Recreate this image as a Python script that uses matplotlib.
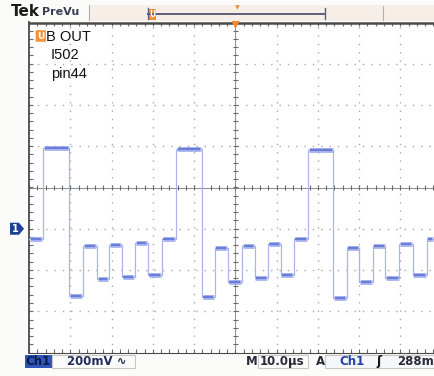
import matplotlib.pyplot as plt
import matplotlib.patches as patches
import numpy as np

# Trace: edge times (us from left of graticule) and
# levels (mV relative to the channel 1 ground marker)
edge_times = [3.4, 9.8, 13.1, 16.5, 19.4, 22.5, 25.7, 28.8, 32.2,
              35.6, 41.9, 45.0, 48.2, 51.6, 54.7, 57.9, 61.0, 64.2,
              67.6, 73.8, 77.0, 80.1, 83.3, 86.4, 89.8, 93.0, 96.4]
levels_mv = [-48, 390, -328, -86, -246, -78, -236, -68, -222, -48,
             386, -330, -94, -258, -84, -240, -74, -224, -50,
             382, -336, -94, -258, -84, -240, -74, -224, -50]

label_lines = ["B OUT", "I502", "pin44"]
volts_per_div = "200mV"
time_per_div = "10.0\u00b5s"
trigger_level = "288m"

W, H = 434, 376
us_per_div = 10.0
mv_per_div = 200.0
ground_div = -1.0
px_per_div = 41.25
gx0, gy0, gy1 = 29, 22.5, 352.5


def fx(px):
    return px / W


def fy(py):
    return 1 - py / H


fig = plt.figure(figsize=(W / 100, H / 100), dpi=100)
fig.patch.set_facecolor("#fbfbfa")

# graticule axes, cut off on the right just like the screenshot
ax = fig.add_axes([fx(gx0), fy(gy1), fx(W - gx0), (gy1 - gy0) / H])
ax.set_facecolor("white")
ndiv_x = (W - gx0) / px_per_div
ax.set_xlim(0, ndiv_x * us_per_div)
ax.set_ylim((-4 - ground_div) * mv_per_div, (4 - ground_div) * mv_per_div)
ax.set_xticks([])
ax.set_yticks([])
ax.spines["right"].set_visible(False)
for side in ["left", "top", "bottom"]:
    ax.spines[side].set_color("#4a4a4a")
ax.spines["top"].set_linewidth(1.8)
ax.spines["left"].set_linewidth(1.3)
ax.spines["bottom"].set_linewidth(0.8)

xc = 5 * us_per_div
yc = -ground_div * mv_per_div

# dotted division lines
for k in range(1, 10):
    if k != 5:
        ax.axvline(k * us_per_div, color="#a8a8a8", lw=1.0, ls=(0, (1, 5)), zorder=1)
for k in range(-3, 4):
    if k != 0:
        ax.axhline(yc + k * mv_per_div, color="#a8a8a8", lw=1.0, ls=(0, (1, 5)), zorder=1)

# centre cross with minor ticks
ax.axvline(xc, color="#8c8c8c", lw=0.7, zorder=1)
ax.axhline(yc, color="#8c8c8c", lw=0.7, zorder=1)
minor_x = np.arange(0, ndiv_x * us_per_div, us_per_div / 5)
minor_y = yc + np.arange(-4, 4.01, 0.2) * mv_per_div
tx = 0.06 * us_per_div
ty = 0.06 * mv_per_div
ax.vlines(minor_x, yc - ty, yc + ty, color="#6a6a6a", lw=0.8, zorder=1)
ax.hlines(minor_y, xc - tx, xc + tx, color="#6a6a6a", lw=0.8, zorder=1)
ylo, yhi = ax.get_ylim()
ax.vlines(minor_x, yhi - 1.6 * ty, yhi, color="#6a6a6a", lw=0.8, zorder=1)
ax.vlines(minor_x, ylo, ylo + 1.6 * ty, color="#6a6a6a", lw=0.8, zorder=1)
ax.hlines(minor_y, 0, 1.6 * tx, color="#6a6a6a", lw=0.8, zorder=1)

# trace: thin edges plus fuzzy flat levels
t_start = np.array([0] + edge_times)
t_end = np.array(edge_times + [ndiv_x * us_per_div])
ax.step([0] + edge_times + [t_end[-1]], levels_mv + [levels_mv[-1]],
        where="post", color="#a9b4f0", lw=0.9, zorder=3)
ax.hlines(levels_mv, t_start + 0.2, t_end - 0.2,
          color="#9aa8ec", lw=3.6, alpha=0.8, zorder=4)
ax.hlines(levels_mv, t_start + 0.4, t_end - 0.4,
          color="#6a7ed8", lw=1.6, zorder=5)

# trigger position marker on the top ruler
ax.plot([xc], [yhi], marker="v", color="#f08a30", markersize=7,
        clip_on=False, zorder=6)

# channel label with orange marker
fig.patches.append(patches.FancyBboxPatch((fx(36.5), fy(41)), fx(8.5), (41 - 31) / H,
                                          boxstyle="round,pad=0.002",
                                          facecolor="#f0923a", edgecolor="none",
                                          transform=fig.transFigure))
fig.text(fx(40.7), fy(36.5), "U", color="white", fontsize=6.5, fontweight="bold",
         ha="center", va="center")
for text, x, y in zip(label_lines, [46, 51, 51], [37, 55, 74]):
    fig.text(fx(x), fy(y), text, fontsize=10.5, family="Liberation Sans",
             ha="left", va="center", color="#111111")

# ground marker "1"
gy = 187.5 - ground_div * px_per_div
fig.patches.append(patches.Polygon([[fx(10), fy(gy - 6)], [fx(19), fy(gy - 6)],
                                    [fx(24), fy(gy)], [fx(19), fy(gy + 6)],
                                    [fx(10), fy(gy + 6)]],
                                   closed=True, facecolor="#1f3f96", edgecolor="none",
                                   transform=fig.transFigure))
fig.text(fx(15.5), fy(gy), "1", color="white", fontsize=7, fontweight="bold",
         ha="center", va="center")

# header: Tek PreVu and record view
fig.text(fx(11), fy(12), "Tek", fontsize=11, fontweight="bold", color="#1a1a1a",
         ha="left", va="center")
fig.text(fx(42), fy(12), "PreVu", fontsize=8, fontweight="bold", color="#3a3f55",
         ha="left", va="center")
fig.patches.append(patches.Rectangle((fx(89), fy(20.5)), fx(W - 89), 16 / H,
                                     facecolor="#f7eee8", edgecolor="none",
                                     transform=fig.transFigure, zorder=0))
fig.add_artist(plt.Line2D([fx(88.5), fx(88.5)], [fy(5), fy(20)], color="#b0b0b0",
                          lw=0.8, transform=fig.transFigure))
fig.add_artist(plt.Line2D([fx(383), fx(383)], [fy(6), fy(20)], color="#b0b0b0",
                          lw=0.8, transform=fig.transFigure))
fig.add_artist(plt.Line2D([fx(148), fx(325)], [fy(14), fy(14)], color="#5c6078",
                          lw=1.4, transform=fig.transFigure))
for xb in (148, 325):
    fig.add_artist(plt.Line2D([fx(xb), fx(xb)], [fy(8), fy(19)], color="#5c6078",
                              lw=1.0, transform=fig.transFigure))
fig.patches.append(patches.Rectangle((fx(149), fy(20)), fx(7), 11 / H,
                                     facecolor="#f0923a", edgecolor="none",
                                     transform=fig.transFigure))
fig.text(fx(152.5), fy(14.5), "U", color="white", fontsize=5.5, fontweight="bold",
         ha="center", va="center")
fig.text(fx(237), fy(8), "\u25bc", color="#f0923a", fontsize=4.5,
         ha="center", va="center")

# bottom status bar
fig.patches.append(patches.Rectangle((fx(25), fy(368)), fx(27), 13 / H,
                                     facecolor="#2f55b8", edgecolor="none",
                                     transform=fig.transFigure))
fig.text(fx(38.5), fy(361.5), "Ch1", fontsize=8.5, fontweight="bold", color="#0c1a4a",
         ha="center", va="center")
fig.patches.append(patches.Rectangle((fx(52), fy(368)), fx(83), 13 / H,
                                     facecolor="none", edgecolor="#c8c8c8", lw=0.8,
                                     transform=fig.transFigure))
fig.text(fx(67), fy(361.5), volts_per_div + " \u223f", fontsize=8.5, fontweight="bold",
         color="#1f2d5a", ha="left", va="center")
fig.text(fx(246), fy(361.5), "M", fontsize=8.5, fontweight="bold", color="#2a2a3a",
         ha="left", va="center")
fig.patches.append(patches.Rectangle((fx(258), fy(368)), fx(50), 13 / H,
                                     facecolor="none", edgecolor="#c8c8c8", lw=0.8,
                                     transform=fig.transFigure))
fig.text(fx(260), fy(361.5), time_per_div, fontsize=8.5, fontweight="bold",
         color="#2a2a3a", ha="left", va="center")
fig.text(fx(316), fy(361.5), "A", fontsize=8.5, fontweight="bold", color="#2a2a3a",
         ha="left", va="center")
fig.patches.append(patches.Rectangle((fx(325), fy(368)), fx(W - 325), 13 / H,
                                     facecolor="#f6f8fc", edgecolor="#c8c8c8", lw=0.8,
                                     transform=fig.transFigure))
fig.text(fx(339), fy(361.5), "Ch1", fontsize=8.5, fontweight="bold", color="#2340a8",
         ha="left", va="center")
fig.text(fx(376), fy(361.5), "\u0283", fontsize=9, fontweight="bold", color="#1a1a1a",
         ha="left", va="center")
fig.text(fx(397), fy(361.5), trigger_level, fontsize=8.5, fontweight="bold",
         color="#2a2a3a", ha="left", va="center")

fig.savefig("out.png", dpi=100)
